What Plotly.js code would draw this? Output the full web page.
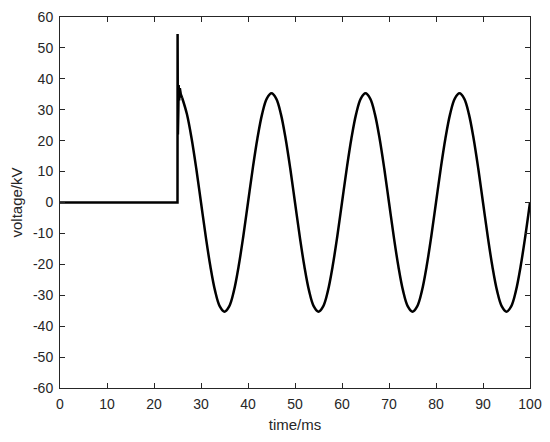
<!DOCTYPE html>
<html>
<head>
<meta charset="utf-8">
<script src="https://cdn.plot.ly/plotly-3.0.1.min.js"></script>
<style>html,body{margin:0;padding:0;background:#fff;}#chart{width:550px;height:442px;}</style>
</head>
<body>
<div id="chart"></div>
<script>
// time in ms, voltage in kV
const timeMs = [0, 24.9, 25.0, 25.02, 25.08, 25.12, 25.18, 25.25, 25.35, 25.5, 25.7,
  26, 27, 28, 29, 30, 31, 32, 33, 34, 35, 36, 37, 38, 39, 40, 41, 42, 43, 44,
  45, 46, 47, 48, 49, 50, 51, 52, 53, 54, 55, 56, 57, 58, 59, 60, 61, 62, 63, 64,
  65, 66, 67, 68, 69, 70, 71, 72, 73, 74, 75, 76, 77, 78, 79, 80, 81, 82, 83, 84,
  85, 86, 87, 88, 89, 90, 91, 92, 93, 94, 95, 96, 97, 98, 99, 100];
const voltageKv = [0, 0, 0, 54.5, 22, 44, 30, 38, 33, 37, 35,
  33.8, 28.6, 20.7, 10.9, 0, -10.9, -20.7, -28.6, -33.6, -35.3, -33.6, -28.6, -20.7, -10.9, 0, 10.9, 20.7, 28.6, 33.6,
  35.3, 33.6, 28.6, 20.7, 10.9, 0, -10.9, -20.7, -28.6, -33.6, -35.3, -33.6, -28.6, -20.7, -10.9, 0, 10.9, 20.7, 28.6, 33.6,
  35.3, 33.6, 28.6, 20.7, 10.9, 0, -10.9, -20.7, -28.6, -33.6, -35.3, -33.6, -28.6, -20.7, -10.9, 0, 10.9, 20.7, 28.6, 33.6,
  35.3, 33.6, 28.6, 20.7, 10.9, 0, -10.9, -20.7, -28.6, -33.6, -35.3, -33.6, -28.6, -20.7, -10.9, 0];
const xTicks = [0, 10, 20, 30, 40, 50, 60, 70, 80, 90, 100];
const yTicks = [-60, -50, -40, -30, -20, -10, 0, 10, 20, 30, 40, 50, 60];

const nSpike = 11;
const traces = [
  {x: timeMs.slice(0, nSpike + 1), y: voltageKv.slice(0, nSpike + 1), mode: 'lines',
   line: {color: '#000', width: 2.5}, hoverinfo: 'skip'},
  {x: timeMs.slice(nSpike), y: voltageKv.slice(nSpike), mode: 'lines',
   line: {color: '#000', width: 2.5, shape: 'spline', smoothing: 1.0}, hoverinfo: 'skip'}
];
const FONT = 'Liberation Sans, Arial, sans-serif';
const axisCommon = {
  showgrid: false, zeroline: false, showline: true, mirror: 'ticks',
  linecolor: '#262626', linewidth: 1, ticks: 'inside', ticklen: 5, tickcolor: '#262626',
  ticklabelstandoff: 3,
  tickfont: {family: FONT, size: 14, color: '#262626'}
};
const layout = {
  width: 550, height: 442,
  margin: {l: 60, r: 20, t: 17, b: 54},
  showlegend: false,
  paper_bgcolor: '#fff', plot_bgcolor: '#fff',
  xaxis: Object.assign({}, axisCommon, {
    range: [0, 100], tickvals: xTicks, ticktext: xTicks.map(String),
    title: {text: 'time/ms', standoff: 8, font: {family: FONT, size: 15, color: '#262626'}}
  }),
  yaxis: Object.assign({}, axisCommon, {
    range: [-60, 60], tickvals: yTicks, ticktext: yTicks.map(String),
    title: {text: 'voltage/kV', standoff: 6, font: {family: FONT, size: 15, color: '#262626'}}
  })
};
Plotly.newPlot('chart', traces, layout, {displayModeBar: false, staticPlot: true});
</script>
</body>
</html>
